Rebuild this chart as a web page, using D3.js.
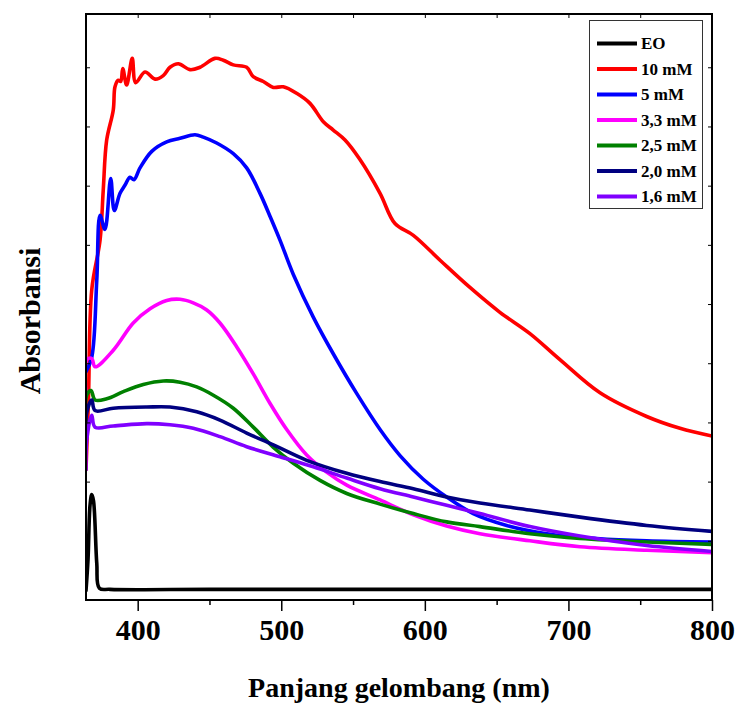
<!DOCTYPE html>
<html>
<head>
<meta charset="utf-8">
<script src="https://cdn.jsdelivr.net/npm/d3@7/dist/d3.min.js"></script>
<style>
	body { margin: 0; background: #fff; }
	svg text { font-family: 'Liberation Serif', 'Times New Roman', serif; font-weight: bold; fill: #000; }
</style>
</head>
<body>
<svg id="chart" width="736" height="705"></svg>
<script>
// x ticks (nm) and the unlabeled y ticks (absorbance)
const xTicks = [400, 500, 600, 700, 800]
const xMinorTicks = [450, 550, 650, 750]
const yTicks = [0.5, 1, 1.5, 2, 2.5, 3, 3.5, 4, 4.5]

const labels = ['EO', '10 mM', '5 mM', '3,3 mM', '2,5 mM', '2,0 mM', '1,6 mM']
const colors = ['#000000', '#ff0000', '#0000ff', '#ff00ff', '#008000', '#000080', '#8000ff']

// wavelength (nm) / absorbance
const eoNm = [364, 365.4, 366.8, 368, 369.2, 371.5, 373.3, 380.7, 450, 550, 650, 800]
const eoAbs = [0.08, 0.34, 0.8, 0.89, 0.84, 0.31, 0.1, 0.09, 0.09, 0.09, 0.09, 0.09]

const mM10Nm = [364, 365.7, 368, 373.8, 376, 378.4, 383, 384.2, 386.5, 388.2, 389.6, 392.3, 396.2, 398.6, 405.1, 412.1, 417.8, 422.5, 428.3, 436.4, 443.4, 453.8, 459.6, 466.6, 475.9, 480.5, 487.5, 494.5, 501.4, 510.7, 520, 529.3, 536.2, 544.4, 554.8, 568.8, 579.2, 592, 610.6, 631.4, 652.3, 673.2, 694.1, 722, 754.5, 777.7, 800]
const mM10Abs = [1.1, 1.69, 2.62, 3.04, 3.46, 3.885, 4.14, 4.335, 4.39, 4.38, 4.49, 4.35, 4.575, 4.37, 4.46, 4.4, 4.43, 4.5, 4.53, 4.48, 4.5, 4.575, 4.56, 4.52, 4.5, 4.42, 4.38, 4.33, 4.335, 4.28, 4.195, 4.04, 3.97, 3.885, 3.72, 3.435, 3.18, 3.08, 2.87, 2.64, 2.43, 2.25, 2.03, 1.75, 1.55, 1.45, 1.385]

const mM5Nm = [364, 368, 371.5, 373.8, 377.2, 381.2, 383.7, 387.7, 391.2, 394.6, 397.4, 401.6, 409.8, 420.2, 429.5, 439.9, 445.7, 455, 466.6, 475.9, 485.2, 492.2, 499.1, 508.4, 522.3, 536.2, 552.5, 568.8, 582.7, 598.9, 615.2, 633.7, 657, 684.9, 719.7, 754.5, 800]
const mM5Abs = [1.93, 2.05, 2.7, 3.25, 3.13, 3.56, 3.29, 3.435, 3.505, 3.57, 3.55, 3.65, 3.79, 3.87, 3.9, 3.93, 3.91, 3.86, 3.77, 3.65, 3.435, 3.24, 3.04, 2.75, 2.39, 2.08, 1.745, 1.44, 1.22, 1.02, 0.87, 0.73, 0.63, 0.56, 0.52, 0.5, 0.49]

const mM33Nm = [364, 364.5, 368, 370.3, 383, 396.9, 408.6, 420.2, 429.5, 438.7, 448.1, 457.3, 468.9, 480.5, 492.2, 503.8, 517.7, 531.6, 545.6, 568.8, 592, 615.2, 638.4, 673.2, 708.1, 754.5, 800]
const mM33Abs = [1.73, 2.03, 2.04, 1.97, 2.11, 2.34, 2.46, 2.53, 2.54, 2.51, 2.45, 2.34, 2.14, 1.91, 1.66, 1.44, 1.225, 1.08, 0.97, 0.845, 0.72, 0.625, 0.56, 0.5, 0.45, 0.42, 0.4]

const mM25Nm = [364, 364.5, 367.5, 370.3, 378.4, 390, 403.9, 417.8, 429.5, 441.1, 452.7, 466.6, 480.5, 494.5, 508.4, 527, 545.6, 568.8, 592, 615.2, 638.4, 673.2, 708.1, 754.5, 800]
const mM25Abs = [1.48, 1.73, 1.77, 1.69, 1.7, 1.76, 1.82, 1.85, 1.84, 1.8, 1.73, 1.62, 1.46, 1.29, 1.155, 1.01, 0.9, 0.81, 0.73, 0.66, 0.62, 0.56, 0.52, 0.49, 0.47]

const mM20Nm = [364, 364.5, 368, 370.3, 383, 406.3, 422.5, 441.1, 457.3, 475.9, 494.5, 517.7, 545.6, 568.8, 592, 615.2, 638.4, 673.2, 708.1, 754.5, 800]
const mM20Abs = [1.31, 1.58, 1.69, 1.6, 1.62, 1.63, 1.63, 1.59, 1.52, 1.41, 1.31, 1.18, 1.07, 1.0, 0.94, 0.87, 0.82, 0.76, 0.7, 0.63, 0.58]

const mM16Nm = [364, 364.5, 368, 370.3, 383, 406.3, 422.5, 438.7, 457.3, 475.9, 499.1, 522.3, 545.6, 568.8, 592, 615.2, 638.4, 673.2, 708.1, 754.5, 800]
const mM16Abs = [1.1, 1.35, 1.56, 1.46, 1.47, 1.49, 1.48, 1.45, 1.38, 1.295, 1.21, 1.125, 1.03, 0.94, 0.87, 0.8, 0.73, 0.62, 0.54, 0.46, 0.41]

const seriesNm = [eoNm, mM10Nm, mM5Nm, mM33Nm, mM25Nm, mM20Nm, mM16Nm]
const seriesAbs = [eoAbs, mM10Abs, mM5Abs, mM33Abs, mM25Abs, mM20Abs, mM16Abs]

const series = labels.map((label, i) => ({
	label,
	color: colors[i],
	points: seriesNm[i].map((nm, j) => ({ nm, abs: seriesAbs[i][j] }))
}))

const plotLeft = 86, plotRight = 712, plotTop = 14, plotBottom = 600

const svg = d3.select('#chart')

const x = d3.scaleLinear().domain([364, 800]).range([plotLeft, plotRight])
const y = d3.scaleLinear().domain([0, 4.95]).range([plotBottom, plotTop])

svg.append('clipPath').attr('id', 'plotClip')
	.append('rect')
	.attr('x', plotLeft).attr('y', plotTop)
	.attr('width', plotRight - plotLeft).attr('height', plotBottom - plotTop)

const line = d3.line()
	.x(d => x(d.nm))
	.y(d => y(d.abs))
	.curve(d3.curveCatmullRom.alpha(0.5))

svg.append('g')
	.attr('clip-path', 'url(#plotClip)')
	.selectAll('path')
	.data(series)
	.enter()
	.append('path')
	.attr('d', d => line(d.points))
	.attr('fill', 'none')
	.attr('stroke', d => d.color)
	.attr('stroke-width', 3.6)
	.attr('stroke-linejoin', 'round')
	.attr('stroke-linecap', 'round')

// bottom axis, ticks outward
const xAxis = svg.append('g')
	.attr('transform', `translate(0,${plotBottom})`)
	.call(d3.axisBottom(x).tickValues(xTicks).tickSize(11).tickSizeOuter(0).tickPadding(8).tickFormat(d3.format('d')))
xAxis.select('.domain').remove()
xAxis.selectAll('line').attr('stroke', '#000').attr('stroke-width', 1.5)
xAxis.selectAll('text').attr('font-size', 30).attr('font-family', null)

svg.append('g')
	.attr('transform', `translate(0,${plotBottom})`)
	.call(d3.axisBottom(x).tickValues(xMinorTicks).tickSize(5).tickFormat(''))
	.call(g => g.select('.domain').remove())
	.selectAll('line').attr('stroke', '#000').attr('stroke-width', 1.5)

// top axis, ticks inward
svg.append('g')
	.attr('transform', `translate(0,${plotTop})`)
	.call(d3.axisBottom(x).tickValues(xTicks.concat(xMinorTicks)).tickSize(4).tickFormat(''))
	.call(g => g.select('.domain').remove())
	.selectAll('line').attr('stroke', '#000').attr('stroke-width', 1)

// left and right axes, ticks inward, no labels
svg.append('g')
	.attr('transform', `translate(${plotLeft},0)`)
	.call(d3.axisRight(y).tickValues(yTicks).tickSize(4).tickFormat(''))
	.call(g => g.select('.domain').remove())
	.selectAll('line').attr('stroke', '#000').attr('stroke-width', 1)

svg.append('g')
	.attr('transform', `translate(${plotRight},0)`)
	.call(d3.axisLeft(y).tickValues(yTicks).tickSize(4).tickFormat(''))
	.call(g => g.select('.domain').remove())
	.selectAll('line').attr('stroke', '#000').attr('stroke-width', 1)

// frame
svg.append('rect')
	.attr('x', plotLeft).attr('y', plotTop)
	.attr('width', plotRight - plotLeft).attr('height', plotBottom - plotTop)
	.attr('fill', 'none')
	.attr('stroke', '#000')
	.attr('stroke-width', 2)

// axis titles
svg.append('text')
	.attr('x', (plotLeft + plotRight) / 2)
	.attr('y', 697)
	.attr('text-anchor', 'middle')
	.attr('font-size', 28)
	.text('Panjang gelombang (nm)')

svg.append('text')
	.attr('transform', `translate(40,${(plotTop + plotBottom) / 2 + 14}) rotate(-90)`)
	.attr('text-anchor', 'middle')
	.attr('font-size', 30)
	.text('Absorbansi')

// legend
const legend = svg.append('g')
legend.append('rect')
	.attr('x', 589.5).attr('y', 20.5)
	.attr('width', 113).attr('height', 188)
	.attr('fill', '#fff')
	.attr('stroke', '#333')
	.attr('stroke-width', 1)

const rows = legend.selectAll('g.row')
	.data(series)
	.enter()
	.append('g')
	.attr('class', 'row')
	.attr('transform', (d, i) => `translate(0,${43.5 + i * 25.5})`)

rows.append('line')
	.attr('x1', 597).attr('x2', 637)
	.attr('stroke', d => d.color)
	.attr('stroke-width', 4)

rows.append('text')
	.attr('x', 641)
	.attr('dy', '0.35em')
	.attr('font-size', 17)
	.text(d => d.label)
</script>
</body>
</html>
